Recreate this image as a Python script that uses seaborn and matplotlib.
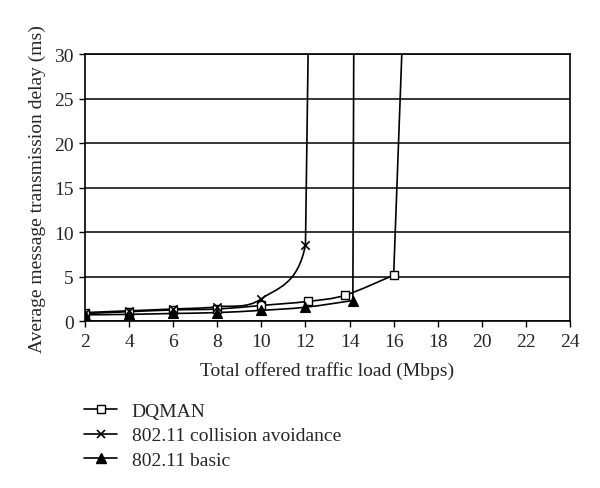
import matplotlib
matplotlib.use('Agg')
import matplotlib.pyplot as plt
import seaborn as sns
from matplotlib.path import Path
from matplotlib.patches import PathPatch
from matplotlib.lines import Line2D

# Valores (ultimo ponto de cada serie = subida vertical ate o topo)
dqman_x = [2, 4, 6, 8, 10, 12.1, 13.8, 16, 16.37]
dqman_y = [0.9, 1.1, 1.3, 1.4, 1.8, 2.25, 2.95, 5.2, 30]
ca_x = [2, 4, 6, 8, 10, 12, 12.12]
ca_y = [1.0, 1.2, 1.4, 1.65, 2.55, 8.6, 30]
basic_x = [2, 4, 6, 8, 10, 12, 14.15, 14.19]
basic_y = [0.75, 0.8, 0.9, 1.0, 1.25, 1.6, 2.35, 30]
labels = ['DQMAN', '802.11 collision avoidance', '802.11 basic']
x_ticks = list(range(2, 25, 2))
y_ticks = list(range(0, 31, 5))


# linha suavizada (estilo Excel) ate o ultimo ponto medido, depois reta ate o topo
# olha_topo: usa o ponto do topo para a tangente no ultimo ponto medido
def caminho_suave(xs, ys, olha_topo):
    pts = list(zip(xs, ys))
    n = len(pts) - 1
    lim = n if olha_topo else n - 1
    verts = [pts[0]]
    codes = [Path.MOVETO]
    for i in range(n - 1):
        p0 = pts[max(i - 1, 0)]
        p1 = pts[i]
        p2 = pts[i + 1]
        p3 = pts[min(i + 2, lim)]
        c1 = (p1[0] + (p2[0] - p0[0]) / 6, p1[1] + (p2[1] - p0[1]) / 6)
        c2 = (p2[0] - (p3[0] - p1[0]) / 6, p2[1] - (p3[1] - p1[1]) / 6)
        verts += [c1, c2, p2]
        codes += [Path.CURVE4] * 3
    verts.append(pts[n])
    codes.append(Path.LINETO)
    return Path(verts, codes)


sns.set_style('white')
plt.rcParams['font.family'] = ['Liberation Serif', 'DejaVu Serif']

fig = plt.figure(figsize=(6, 4.89), dpi=100)
ax = fig.add_axes([0.1417, 0.3405, 0.8083, 0.547])

estilos = [
    dict(marker='s', markersize=5.5, markerfacecolor='white', markeredgecolor='black', markeredgewidth=1),
    dict(marker='x', markersize=6, markerfacecolor='black', markeredgecolor='black', markeredgewidth=1.2),
    dict(marker='^', markersize=7, markerfacecolor='black', markeredgecolor='black', markeredgewidth=1),
]
series = [(dqman_x, dqman_y, False), (ca_x, ca_y, True), (basic_x, basic_y, False)]

handles = []
for (xs, ys, topo), est, lab in zip(series, estilos, labels):
    ax.add_patch(PathPatch(caminho_suave(xs, ys, topo), facecolor='none', edgecolor='black',
                           lw=1.2, zorder=3))
    sns.scatterplot(x=xs[:-1], y=ys[:-1], ax=ax, marker=est['marker'], s=est['markersize'] ** 2,
                    color=est['markerfacecolor'], edgecolor='black', linewidth=est['markeredgewidth'],
                    zorder=4)
    handles.append(Line2D([], [], color='black', lw=1.2, **est))

ax.set_xlim(2, 24)
ax.set_ylim(0, 30)
ax.set_xticks(x_ticks)
ax.set_yticks(y_ticks)
ax.yaxis.grid(True, color='black', lw=1.1)
ax.xaxis.grid(False)
ax.set_axisbelow(True)
for s in ax.spines.values():
    s.set_color('black')
    s.set_linewidth(1.2)
ax.tick_params(axis='both', direction='out', length=4, width=1, color='black',
               labelsize=14, pad=4, bottom=True, left=True)
ax.set_xlabel('Total offered traffic load (Mbps)', fontsize=14, labelpad=8)
ax.set_ylabel('Average message transmission delay (ms)', fontsize=14, labelpad=6)

fig.legend(handles, labels, loc='upper left', bbox_to_anchor=(0.127, 0.191), frameon=False,
           fontsize=14, handlelength=1.7, handletextpad=0.75, labelspacing=0.35,
           borderaxespad=0)

fig.savefig('out.png', dpi=100)
